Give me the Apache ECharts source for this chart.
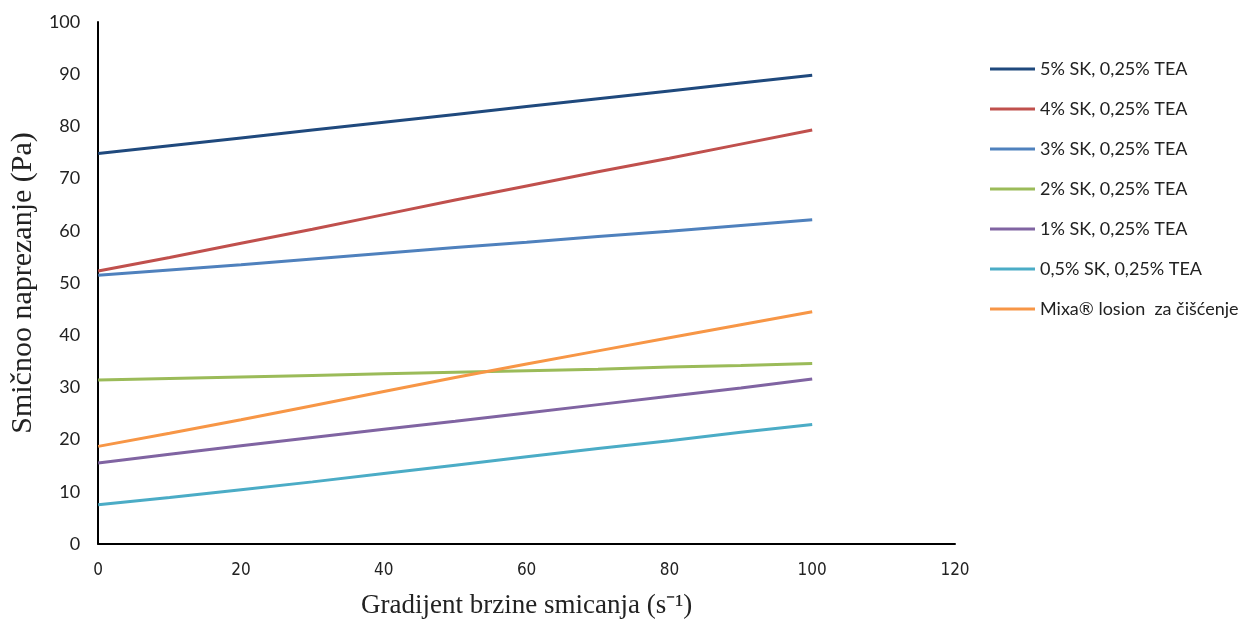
<!DOCTYPE html>
<html>
<head>
<meta charset="utf-8">
<script src="https://cdn.jsdelivr.net/npm/echarts@6/dist/echarts.min.js"></script>
<style>html,body{margin:0;padding:0;background:#fff}#c{width:1246px;height:625px}</style>
</head>
<body>
<div id="c"></div>
<script>
const shearRate = [0, 10, 20, 30, 40, 50, 60, 70, 80, 90, 100];
const s5  = [74.8, 76.3, 77.8, 79.3, 80.8, 82.3, 83.8, 85.3, 86.8, 88.3, 89.8];
const s4  = [52.3, 54.9, 57.6, 60.3, 63.1, 65.9, 68.6, 71.3, 73.9, 76.6, 79.3];
const s3  = [51.5, 52.5, 53.5, 54.6, 55.7, 56.8, 57.8, 58.9, 59.9, 61.0, 62.1];
const s2  = [31.4, 31.7, 32.0, 32.3, 32.6, 32.9, 33.2, 33.5, 33.9, 34.2, 34.6];
const s1  = [15.5, 17.2, 18.8, 20.4, 22.0, 23.5, 25.1, 26.7, 28.3, 29.9, 31.6];
const s05 = [7.5, 8.9, 10.4, 11.9, 13.5, 15.1, 16.7, 18.3, 19.8, 21.4, 22.9];
const mixa = [18.7, 21.2, 23.8, 26.5, 29.2, 31.9, 34.5, 37.0, 39.5, 42.0, 44.5];
const seriesNames = ['5% SK, 0,25% TEA','4% SK, 0,25% TEA','3% SK, 0,25% TEA','2% SK, 0,25% TEA','1% SK, 0,25% TEA','0,5% SK, 0,25% TEA','Mixa® losion  za čišćenje'];
const seriesData = [s5, s4, s3, s2, s1, s05, mixa];
const colors = ['#1F497D','#C0504D','#4F81BD','#9BBB59','#8064A2','#4BACC6','#F79646'];
const xTicks = [0, 20, 40, 60, 80, 100, 120];
const yTicks = [0, 10, 20, 30, 40, 50, 60, 70, 80, 90, 100];

const chart = echarts.init(document.getElementById('c'));
chart.setOption({
  animation: false,
  color: colors,
  grid: { left: 89, right: 291, top: 22, bottom: 81, containLabel: false },
  legend: {
    orient: 'vertical', left: 985, top: 54,
    icon: 'rect', itemWidth: 45, itemHeight: 3, itemGap: 20,
    textStyle: { fontFamily: 'Lato, "Open Sans", sans-serif', fontSize: 18, color: '#222', lineHeight: 20 },
    data: seriesNames
  },
  xAxis: {
    type: 'value', min: xTicks[0], max: xTicks[xTicks.length-1], interval: 20,
    name: 'Gradijent brzine smicanja (s⁻¹)', nameLocation: 'middle', nameGap: 48,
    nameTextStyle: { fontFamily: '"Liberation Serif", "Times New Roman", serif', fontSize: 27, color: '#222' },
    axisLine: { lineStyle: { color: '#000', width: 2 } },
    axisTick: { show: false }, splitLine: { show: false },
    axisLabel: { fontFamily: '"Liberation Sans Narrow", "Arial Narrow", "DejaVu Sans Condensed", sans-serif', fontSize: 17, color: '#222', margin: 18 }
  },
  yAxis: {
    type: 'value', min: yTicks[0], max: yTicks[yTicks.length-1], interval: 10,
    name: 'Smičnoo naprezanje (Pa)', nameLocation: 'middle', nameGap: 54,
    nameTextStyle: { fontFamily: '"Liberation Serif", "Times New Roman", serif', fontSize: 30, color: '#222' },
    axisLine: { show: true, lineStyle: { color: '#000', width: 2 } },
    axisTick: { show: false }, splitLine: { show: false },
    axisLabel: { fontFamily: 'Lato, "Open Sans", sans-serif', fontSize: 18, color: '#222', margin: 18 }
  },
  series: seriesNames.map((n, i) => ({
    name: n, type: 'line', showSymbol: false, symbol: 'none',
    data: shearRate.map((x, j) => [x, seriesData[i][j]]),
    lineStyle: { width: 3, color: colors[i] }, itemStyle: { color: colors[i] }
  }))
});
</script>
</body>
</html>
